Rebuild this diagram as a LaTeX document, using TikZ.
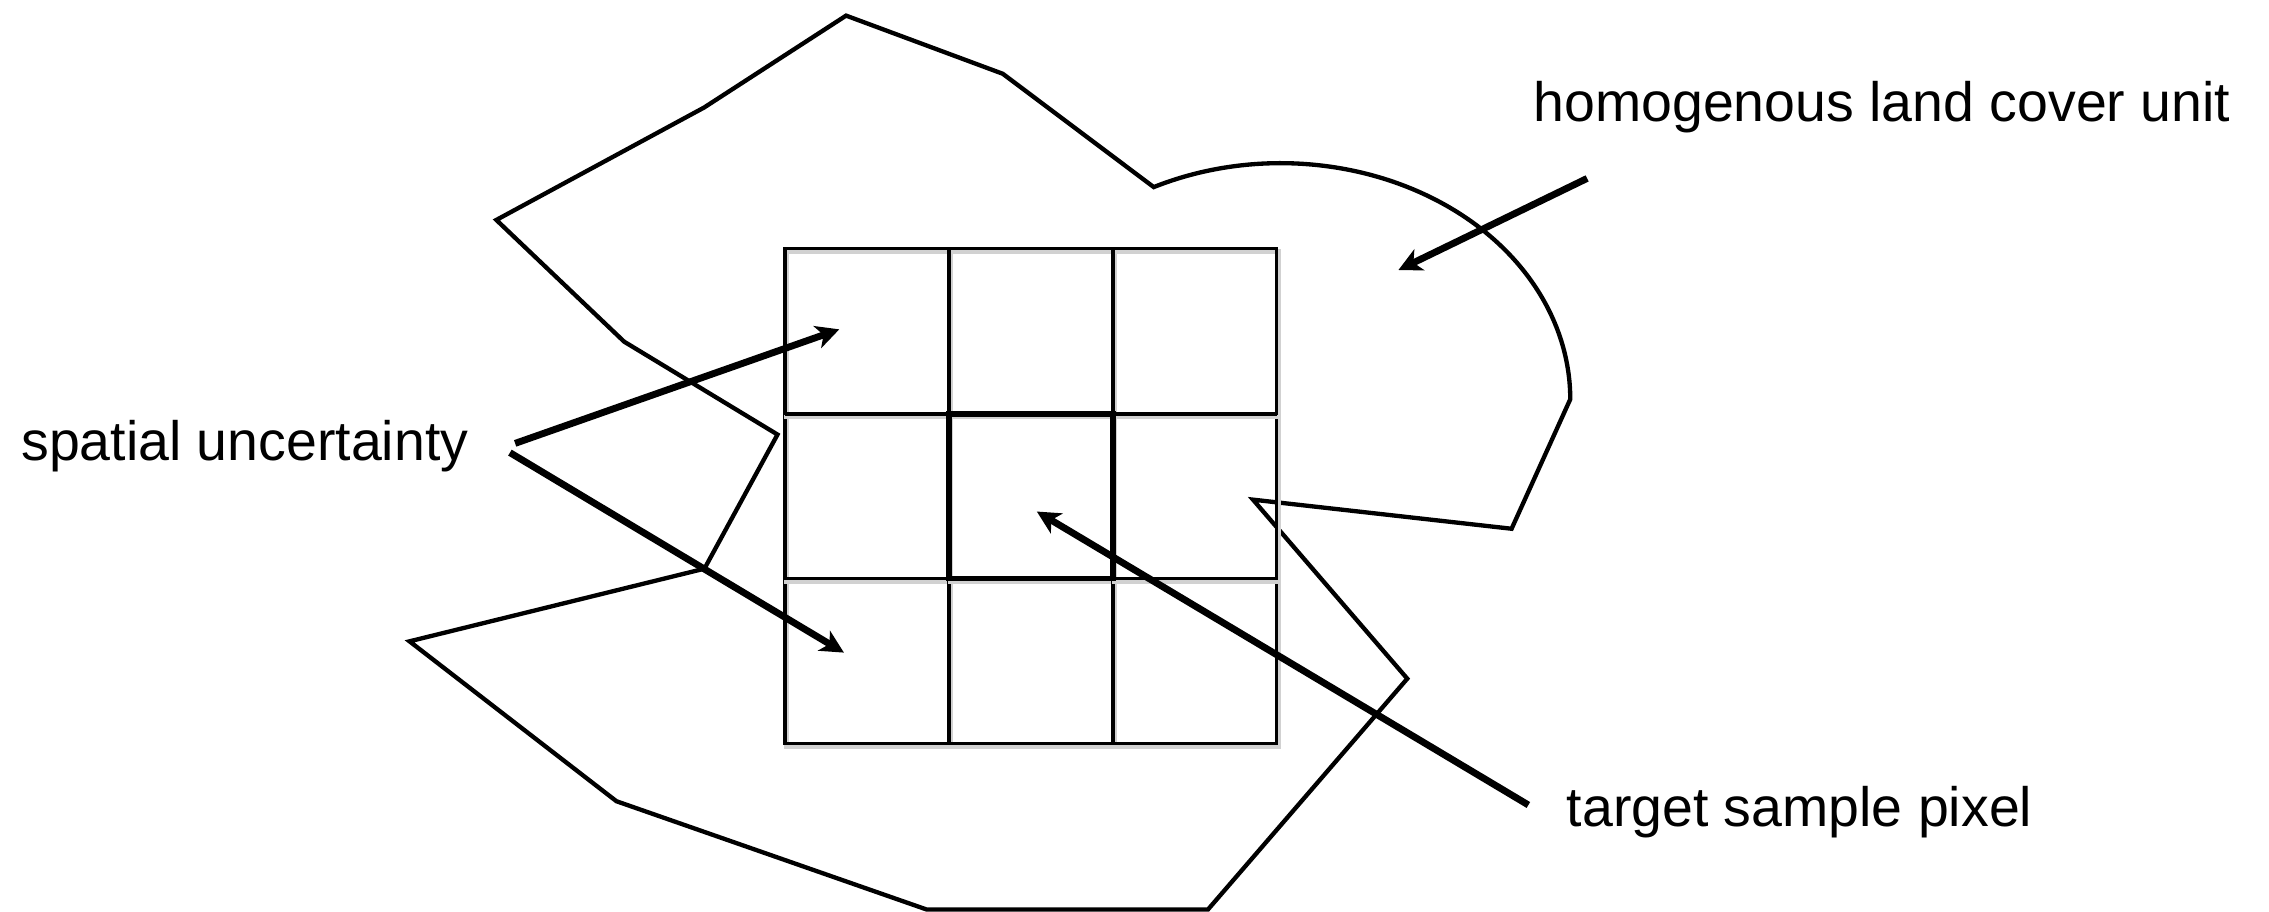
\documentclass[tikz,border=0pt]{standalone}
\usepackage{fontspec}
\setmainfont{Liberation Sans}
\usetikzlibrary{arrows.meta}

\begin{document}
\begin{tikzpicture}[x=0.01cm,y=0.01cm,
  font=\fontsize{10.9}{13}\selectfont,
  lbl/.style={anchor=base west,inner sep=0pt},
  a/.style={line width=1.35pt,-{Stealth[length=1.6mm,width=1.6mm,inset=0.45mm]}},
  unit/.style={line width=0.85pt},
  cell/.style={line width=0.62pt},
  sh/.style={line width=0.9pt,black!18}]
\useasboundingbox (0,0) rectangle (1568,630);
\draw[unit] (584.7,619.2)--(693,579)--(797.3,500.7) arc[start angle=116,end angle=0,x radius=2cm,y radius=1.63cm]--(1044.6,264.6)--(865.9,284.7)--(972.5,161)--(834.8,1.5)--(640.3,1.5)--(426,76.3)--(283,186.8)--(486.8,237)--(537.3,329.7)--(431.3,393.9)--(343,478)--(486.6,555.7)--cycle;
\foreach \i in {0,1,2}{\foreach \j in {0,1,2}{
  \draw[sh] ({542.5+113.3*\i+1},{116+114*\j-2}) rectangle +(113.3,114);
  \draw[cell] ({542.5+113.3*\i},{116+114*\j}) rectangle +(113.3,114);}}
\draw[cell,line width=0.9pt] (542.5,344) -- (882.4,344);
\draw[line width=1.05pt] (655.8,230) rectangle (769.1,344);
\node[lbl] (su) at (14,312) {spatial uncertainty};
\node[lbl] (hl) at (1059,546) {homogenous land cover unit};
\node[lbl] (ts) at (1082,58.5) {target sample pixel};
\coordinate (su1) at (356,323.6); \coordinate (su2) at (352.4,317.2);
\coordinate (c1) at (580,402.4); \coordinate (c2) at (583.2,179);
\coordinate (hl1) at (1096.8,506.7); \coordinate (hu) at (966.4,443.4);
\coordinate (ts1) at (1056.2,73.7); \coordinate (px) at (716.5,276.5);
\draw[a](su1)--(c1);\draw[a](su2)--(c2);\draw[a](hl1)--(hu);\draw[a](ts1)--(px);
\end{tikzpicture}
\end{document}
